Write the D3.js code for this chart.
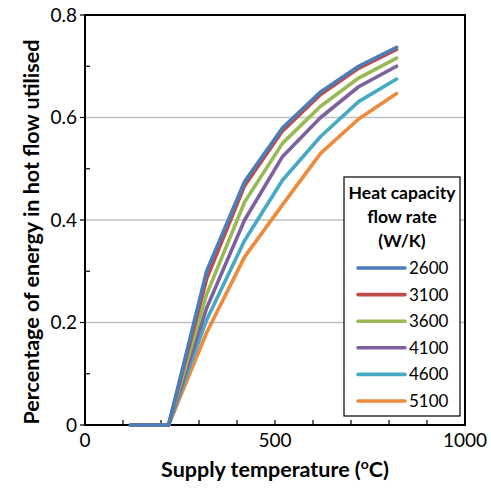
<!DOCTYPE html>
<html>
<head>
<meta charset="utf-8">
<script src="https://cdn.jsdelivr.net/npm/d3@7"></script>
<style>
  body { margin: 0; background: #fff; }
  text { font-family: Lato, "Open Sans", sans-serif; fill: #000; }
</style>
</head>
<body>
<figure id="chart" style="margin:0"></figure>
<script>
// supply temperature (oC)
var temps = [120, 220, 320, 420, 520, 620, 720, 820];
// heat capacity flow rate (W/K)
var flowRates = ["2600", "3100", "3600", "4100", "4600", "5100"];
var s2600 = [0, 0, 0.30, 0.475, 0.58, 0.65, 0.70, 0.737];
var s3100 = [0, 0, 0.285, 0.467, 0.574, 0.645, 0.696, 0.733];
var s3600 = [0, 0, 0.255, 0.435, 0.55, 0.622, 0.677, 0.716];
var s4100 = [0, 0, 0.228, 0.40, 0.524, 0.60, 0.66, 0.70];
var s4600 = [0, 0, 0.205, 0.36, 0.478, 0.563, 0.631, 0.675];
var s5100 = [0, 0, 0.18, 0.328, 0.43, 0.53, 0.597, 0.647];
var xTicks = [0, 500, 1000];
var yTicks = [0, 0.2, 0.4, 0.6, 0.8];

var seriesValues = [s2600, s3100, s3600, s4100, s4600, s5100];
var colors = ["#4A7EBB", "#BE4B48", "#98B954", "#7D60A0", "#46AAC5", "#EE8A3C"];

var width = 491, height = 491;
// plot area edges (top is a reserved window name, so prefixed)
var pLeft = 85, pRight = 465, pTop = 15, pBottom = 425;

var svg = d3.select("#chart").append("svg")
  .attr("width", width)
  .attr("height", height);

var x = d3.scaleLinear().domain([0, 1000]).range([pLeft, pRight]);
var y = d3.scaleLinear().domain([0, 0.8]).range([pBottom, pTop]);

// gridlines
svg.selectAll(".grid")
  .data(yTicks.filter(d => d > 0 && d < 0.8))
  .enter().append("line")
  .attr("x1", pLeft).attr("x2", pRight)
  .attr("y1", d => y(d)).attr("y2", d => y(d))
  .attr("stroke", "#BFBFBF")
  .attr("stroke-width", 1.5);

// minor ticks inside on y, all x ticks inside
var yMinor = [0.1, 0.3, 0.5, 0.7];
svg.selectAll(".yminor")
  .data(yMinor)
  .enter().append("line")
  .attr("x1", pLeft).attr("x2", pLeft + 5)
  .attr("y1", d => y(d)).attr("y2", d => y(d))
  .attr("stroke", "#000").attr("stroke-width", 1.2);

svg.selectAll(".ymajor")
  .data(yTicks)
  .enter().append("line")
  .attr("x1", pLeft - 5).attr("x2", pLeft)
  .attr("y1", d => y(d)).attr("y2", d => y(d))
  .attr("stroke", "#000").attr("stroke-width", 1.2);

svg.selectAll(".xtick")
  .data(d3.range(1, 10).map(i => i * 100))
  .enter().append("line")
  .attr("x1", d => x(d)).attr("x2", d => x(d))
  .attr("y1", pBottom).attr("y2", pBottom - 5)
  .attr("stroke", "#000").attr("stroke-width", 1.2);

// plot area border
svg.append("rect")
  .attr("x", pLeft).attr("y", pTop)
  .attr("width", pRight - pLeft).attr("height", pBottom - pTop)
  .attr("fill", "none")
  .attr("stroke", "#000")
  .attr("stroke-width", 2);

// tick labels
svg.selectAll(".ylabel")
  .data(yTicks)
  .enter().append("text")
  .attr("x", pLeft - 8)
  .attr("y", d => y(d))
  .attr("dy", "0.35em")
  .attr("text-anchor", "end")
  .style("font-size", "19px")
  .text(d => d === 0 ? "0" : d3.format(".1f")(d));

svg.selectAll(".xlabel")
  .data(xTicks)
  .enter().append("text")
  .attr("x", d => x(d))
  .attr("y", pBottom + 22)
  .attr("text-anchor", "middle")
  .style("font-size", "19px")
  .text(d => d);

// lines
var line = d3.line()
  .x((d, i) => x(temps[i]))
  .y(d => y(d));

svg.selectAll(".series")
  .data(seriesValues.slice().reverse())
  .enter().append("path")
  .attr("d", d => line(d))
  .attr("fill", "none")
  .attr("stroke", (d, i) => colors[colors.length - 1 - i])
  .attr("stroke-width", 3.6)
  .attr("stroke-linejoin", "round")
  .attr("stroke-linecap", "round");

// axis titles
svg.append("text")
  .attr("transform", "translate(39,232) rotate(-90)")
  .attr("text-anchor", "middle")
  .style("font-size", "21.5px")
  .style("font-weight", "bold")
  .text("Percentage of energy in hot flow utilised");

var xt = svg.append("text")
  .attr("x", x(500))
  .attr("y", 477)
  .attr("text-anchor", "middle")
  .style("font-size", "21.5px")
  .style("font-weight", "bold");
xt.append("tspan").text("Supply temperature (");
xt.append("tspan").attr("dy", -8).style("font-size", "14px").text("o");
xt.append("tspan").attr("dy", 8).text("C)");

// legend
var lg = svg.append("g").attr("transform", "translate(344,177)");
lg.append("rect")
  .attr("width", 116).attr("height", 239)
  .attr("fill", "#fff")
  .attr("stroke", "#000")
  .attr("stroke-width", 1.2);

["Heat capacity", "flow rate", "(W/K)"].forEach(function (t, i) {
  lg.append("text")
    .attr("x", 58)
    .attr("y", 22 + i * 24)
    .attr("text-anchor", "middle")
    .style("font-size", "17.5px")
    .style("font-weight", "bold")
    .text(t);
});

var item = lg.selectAll(".item")
  .data(flowRates)
  .enter().append("g")
  .attr("transform", (d, i) => "translate(0," + (91 + i * 26.6) + ")");

item.append("line")
  .attr("x1", 14).attr("x2", 61)
  .attr("stroke", (d, i) => colors[i])
  .attr("stroke-width", 3.6)
  .attr("stroke-linecap", "round");

item.append("text")
  .attr("x", 65)
  .attr("dy", "0.35em")
  .style("font-size", "17px")
  .text(d => d);
</script>
</body>
</html>
